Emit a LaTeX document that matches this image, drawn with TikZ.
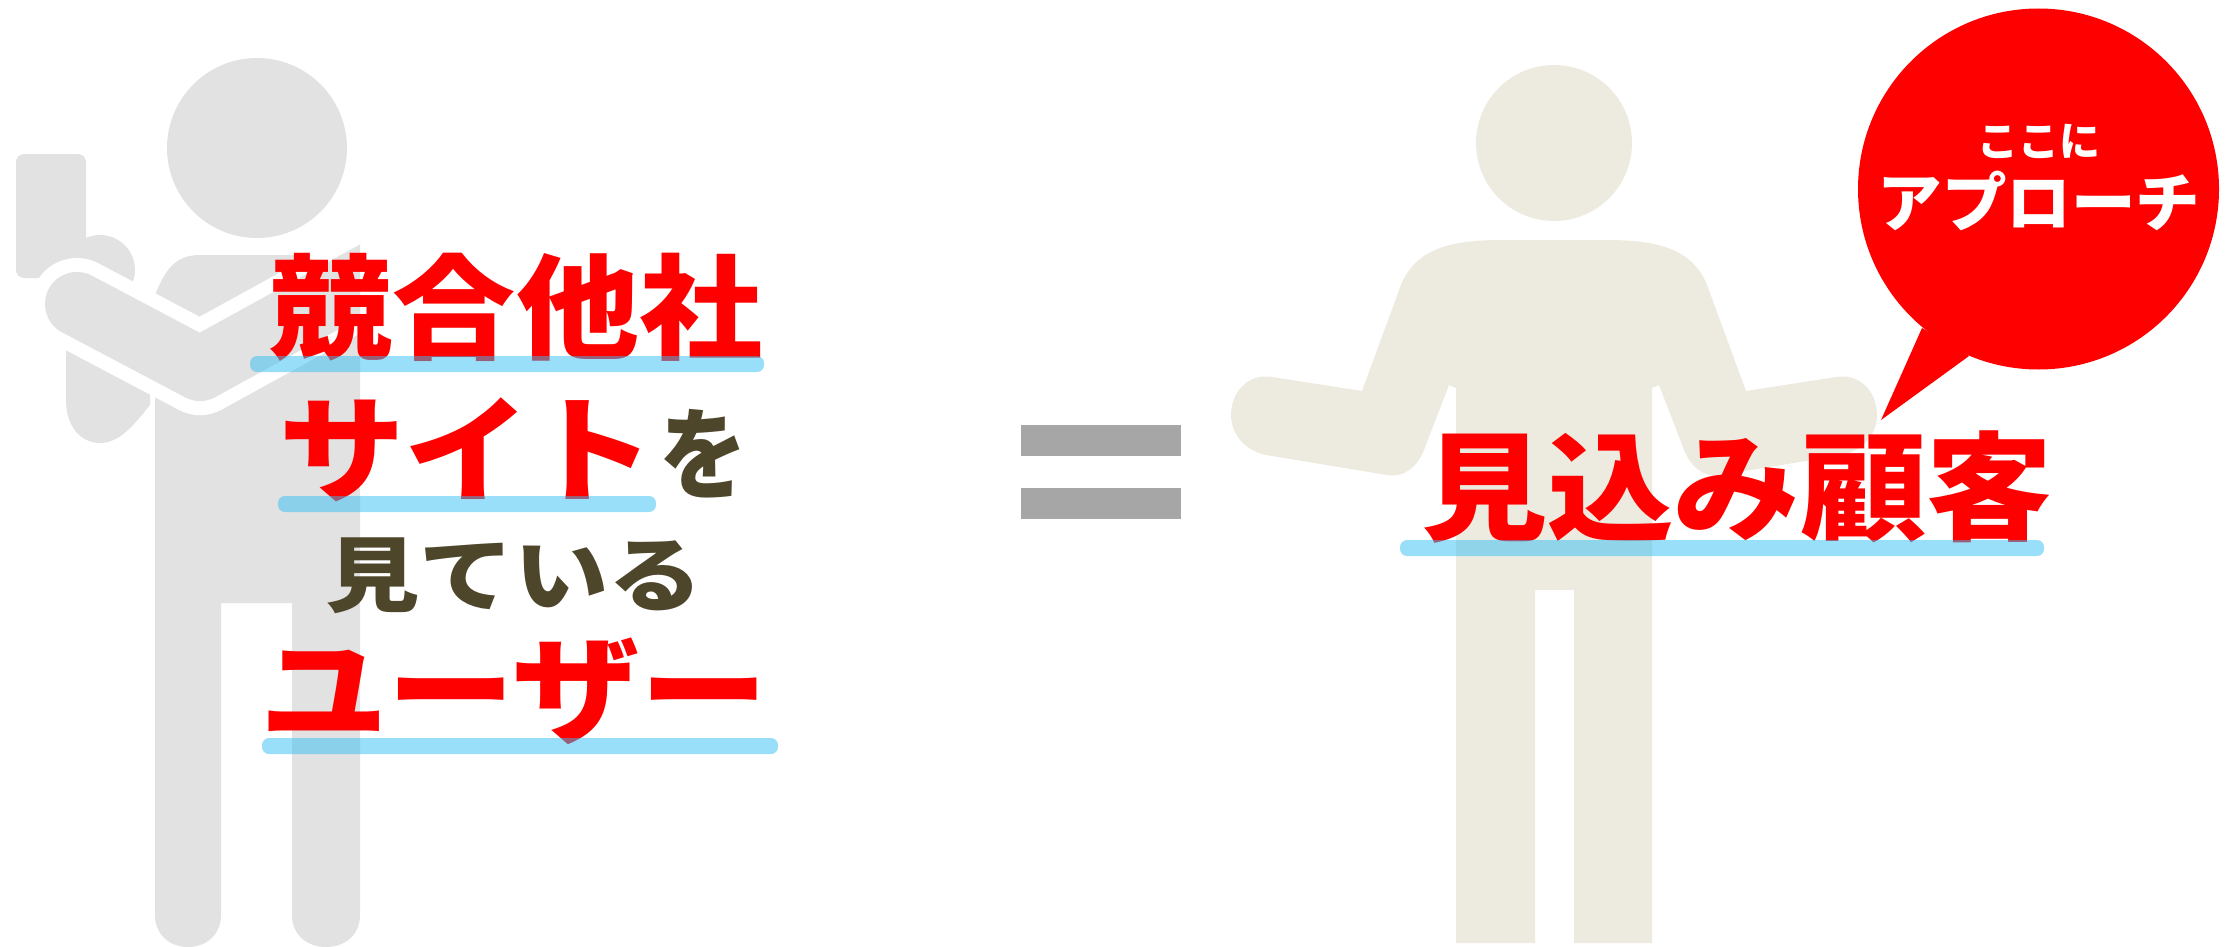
\documentclass[tikz,border=0pt]{standalone}
\usepackage{fontspec}
\newfontfamily\jpfont{Noto Sans CJK JP}
\definecolor{figgrey}{HTML}{E2E2E2}
\definecolor{figtan}{HTML}{EDEBE0}
\definecolor{eqgrey}{HTML}{A6A6A6}
\definecolor{markblue}{HTML}{33BFF3}
\definecolor{wordbrown}{HTML}{4E462B}
\tikzset{
  redword/.style={inner sep=0pt,text=red,font=\jpfont\bfseries\fontsize{#1}{#1}\selectfont},
  brownword/.style={inner sep=0pt,text=wordbrown,font=\jpfont\bfseries\fontsize{#1}{#1}\selectfont},
  whiteword/.style={inner sep=0pt,text=white,font=\jpfont\bfseries\fontsize{#1}{#1}\selectfont},
  markbar/.style={fill=markblue,opacity=0.5,rounded corners=7pt},
}
\begin{document}
\begin{tikzpicture}[x=1pt,y=-1pt]
      \useasboundingbox (0,0) rectangle (2229,947);
      % figure on the left
      \begin{scope}
        \clip (0,0) rectangle (360,947);
        \fill[figgrey] (257,148) circle (90);
        \fill[figgrey,rounded corners=8pt] (16,154) rectangle (86,278);
        \fill[figgrey] (100,270) circle (35);
        \fill[figgrey] (66,340) -- (66,400) .. controls (66,428) and (82,443) .. (100,443)
          .. controls (118,443) and (132,428) .. (150,405) -- (150,340) -- cycle;
        \fill[figgrey] (155,295) .. controls (165,270) and (175,255) .. (200,255) -- (320,255)
          .. controls (345,255) and (360,265) .. (360,290) -- (360,915)
          .. controls (360,935) and (345,947) .. (326,947) .. controls (307,947) and (292,935) .. (292,915)
          -- (292,603) -- (221,603) -- (221,915)
          .. controls (221,935) and (206,947) .. (188,947) .. controls (170,947) and (155,935) .. (155,915)
          -- cycle;
        \draw[white,line width=92pt,line cap=round,line join=round] (77,304) -- (200,369) -- (380,270);
        \draw[figgrey,line width=64pt,line cap=round,line join=round] (77,304) -- (200,369) -- (380,270);
      \end{scope}
      % figure on the right
      \fill[figtan] (1554,143) circle (78);
      \fill[figtan] (1500,240) -- (1608,240) .. controls (1670,240) and (1698,255) .. (1710,293)
        -- (1746,391) -- (1836,377) .. controls (1860,373) and (1877,392) .. (1877,415)
        .. controls (1877,435) and (1862,451) .. (1842,455) -- (1721,475)
        .. controls (1702,478) and (1690,465) .. (1684,450) -- (1659,385) -- (1652,388)
        -- (1652,943) -- (1574,943) -- (1574,590) -- (1535,590) -- (1535,943) -- (1456,943)
        -- (1456,388) -- (1449,385) -- (1424,450)
        .. controls (1418,465) and (1406,478) .. (1387,475) -- (1266,455)
        .. controls (1246,451) and (1231,435) .. (1231,415)
        .. controls (1231,392) and (1248,373) .. (1272,377) -- (1362,391) -- (1398,293)
        .. controls (1410,255) and (1438,240) .. (1500,240) -- cycle;
      % equals sign
      \fill[eqgrey] (1021,425) rectangle (1181,456);
      \fill[eqgrey] (1021,488) rectangle (1181,519);
      % balloon
      \fill[red] (1922,328) -- (1881,420) -- (1969,356) -- cycle;
      \fill[red] (2038.5,189) circle (180.5);
      \node[whiteword=41] (koko) at (2039,141) {ここに};
      \node[whiteword=64,xscale=1.01] (approach) at (2039,201) {アプローチ};
      % words
      \node[redword=114,xscale=1.08] (kyogo) at (516,307) {競合他社};
      \node[redword=116,xscale=1.08] (site) at (467,450) {サイト};
      \node[brownword=100,xscale=.88] (wo) at (703,454) {を};
      \node[brownword=82,xscale=1.15] (miteiru) at (514,576) {見ている};
      \node[redword=118,xscale=1.08] (user) at (514,691) {ユーザー};
      \node[redword=118,xscale=1.07] (mikomi) at (1737,487) {見込み顧客};
      % markers
      \fill[markbar] (250,356) rectangle (764,372);
      \fill[markbar] (278,496) rectangle (656,512);
      \fill[markbar] (262,738) rectangle (778,754);
      \fill[markbar] (1400,540) rectangle (2044,556);
    \end{tikzpicture}
\end{document}
